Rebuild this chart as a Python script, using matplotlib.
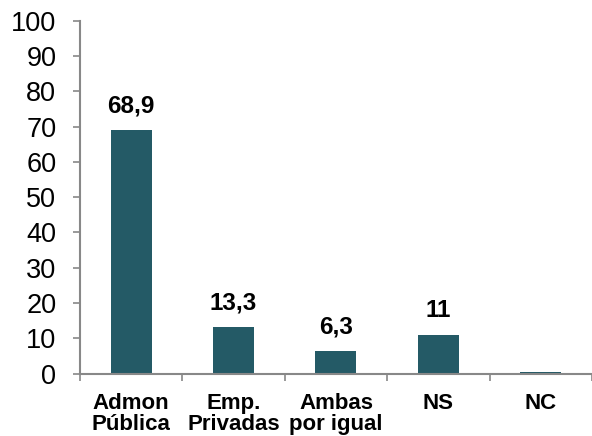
import numpy as np
import matplotlib.pyplot as plt

# Datos del gráfico
categorias = ['Admon\nPública', 'Emp.\nPrivadas', 'Ambas\npor igual', 'NS', 'NC']
valores = [68.9, 13.3, 6.3, 11.0, 0.4]
etiquetas = ['68,9', '13,3', '6,3', '11', '']
yticks = list(range(0, 101, 10))

plt.rcParams['font.family'] = ['Liberation Sans', 'DejaVu Sans']

color_barra = '#245A66'
color_eje = '#888888'

fig = plt.figure(figsize=(5.92, 4.36), dpi=100)
ax = fig.add_axes([0.135, 0.1433, 0.865, 0.8092])

x = np.arange(len(categorias))
ax.bar(x, valores, width=0.4, color=color_barra, zorder=2)

# Etiquetas de valor sobre las barras
for xi, v, et in zip(x, valores, etiquetas):
    if et:
        ax.annotate(et, (xi, v), xytext=(0, 9), textcoords='offset points',
                    ha='center', va='bottom', fontsize=17.5, fontweight='bold')

ax.set_xlim(-0.5, len(categorias) - 0.5)
ax.set_ylim(0, 100)
ax.set_yticks(yticks)
ax.tick_params(axis='y', labelsize=19.5, length=5, width=1.2, color=color_eje, pad=12)

# Ticks del eje x entre categorías, etiquetas centradas
ax.set_xticks(np.arange(len(categorias) + 1) - 0.5)
ax.set_xticklabels([])
ax.set_xticks(x, minor=True)
ax.set_xticklabels(categorias, minor=True, fontsize=16, fontweight='bold', linespacing=1.0)
ax.tick_params(axis='x', which='major', length=5, width=1.2, color=color_eje)
ax.tick_params(axis='x', which='minor', length=0, pad=14)

for lado in ['top', 'right']:
    ax.spines[lado].set_visible(False)
for lado in ['left', 'bottom']:
    ax.spines[lado].set_color(color_eje)
    ax.spines[lado].set_linewidth(1.5)

fig.savefig('out.png', dpi=100)
